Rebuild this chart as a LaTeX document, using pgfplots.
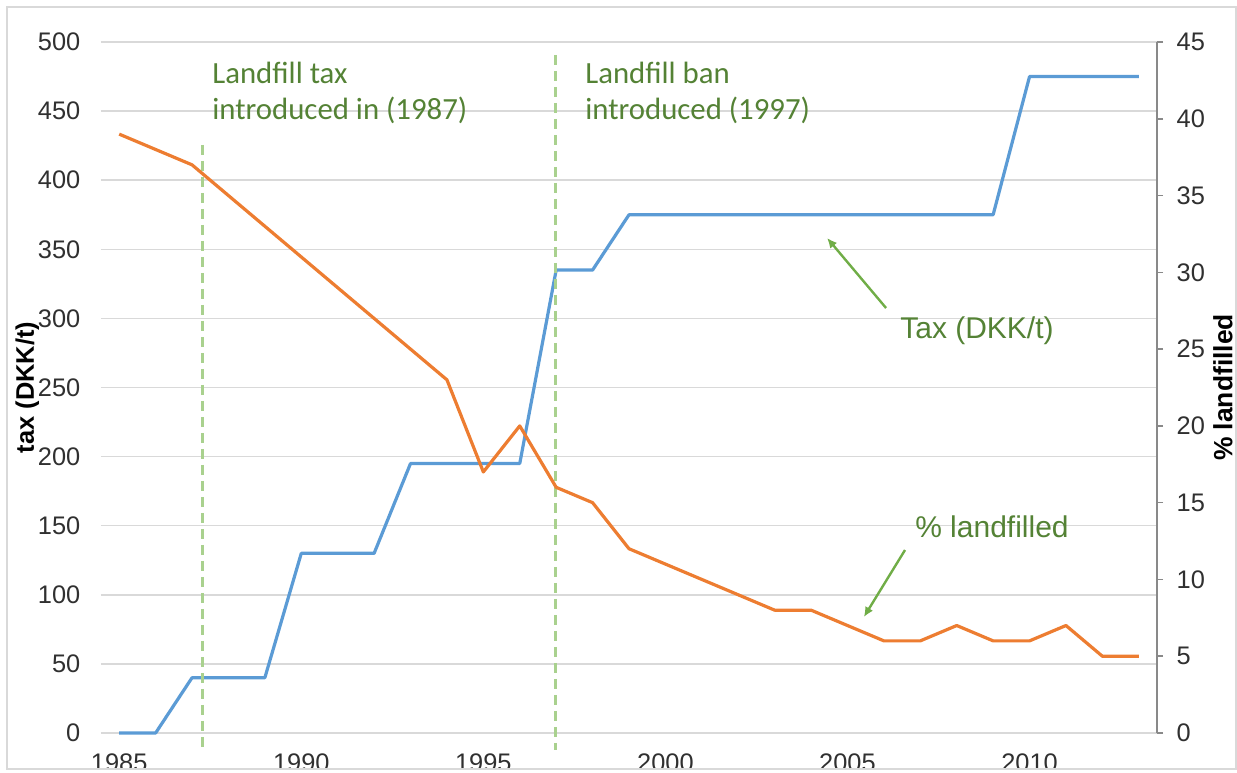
\documentclass[border=0pt]{standalone}
\usepackage{pgfplots}
\pgfplotsset{compat=1.18}
\usepackage{fontspec}
\setmainfont{Liberation Sans}
\newfontfamily\calibri{Carlito}
\usetikzlibrary{arrows.meta}
\definecolor{cblue}{HTML}{5B9BD5}
\definecolor{corange}{HTML}{ED7D31}
\definecolor{cdash}{HTML}{A9D18E}
\definecolor{ctext}{HTML}{548235}
\definecolor{carrow}{HTML}{70AD47}
\definecolor{cgrid}{HTML}{D9D9D9}
\definecolor{caxis}{HTML}{898989}
\definecolor{ctick}{HTML}{303030}
\begin{document}
\begin{tikzpicture}
\path[use as bounding box] (-50.5pt,-19.5pt) rectangle (568pt,366.5pt);
\begin{scope}
\clip (-47pt,-18pt) rectangle (567.5pt,363pt);
\begin{axis}[
  at={(0,0)}, anchor=south west,
  scale only axis, width=528pt, height=345.5pt,
  xmin=1984.5, xmax=2013.5, ymin=0, ymax=500,
  xtick={1985,1990,...,2010}, ytick={0,50,...,500},
  ymajorgrids, grid style={draw=cgrid, line width=0.75pt},
  axis line style={draw=none}, major tick length=0pt, tick style={draw=none},
  /pgf/number format/assume math mode=true,
  /pgf/number format/1000 sep={},
  tick label style={font=\fontsize{12.7}{15}\selectfont, text=ctick},
  xticklabel style={yshift=-6.8pt},
  yticklabel style={xshift=-6.8pt},
  ylabel={tax (DKK/t)},
  ylabel style={at={(axis description cs:-0.0697,0.5)}, anchor=center, font=\bfseries\fontsize{12.7}{15}\selectfont, text=black},
  clip=false,
]
\addplot[cblue, line width=1.6pt, line join=round] coordinates {
(1985,0)(1986,0)(1987,40)(1988,40)(1989,40)(1990,130)(1991,130)(1992,130)
(1993,195)(1994,195)(1995,195)(1996,195)(1997,335)(1998,335)(1999,375)
(2000,375)(2001,375)(2002,375)(2003,375)(2004,375)(2005,375)(2006,375)
(2007,375)(2008,375)(2009,375)(2010,475)(2011,475)(2012,475)(2013,475)};
\addplot[cdash, line width=1.5pt, dash pattern=on 5pt off 3pt] coordinates {(1987.30,425.5)(1987.30,-13.7)};
\addplot[cdash, line width=1.5pt, dash pattern=on 5pt off 3pt] coordinates {(1996.97,490.6)(1996.97,-12.3)};
\node[anchor=base west, inner sep=0pt, text=ctext, font=\calibri\fontsize{15.4}{18}\selectfont] at (axis cs:1987.548,470.1) {Landfill tax};
\node[anchor=base west, inner sep=0pt, text=ctext, font=\calibri\fontsize{15.4}{18}\selectfont] at (axis cs:1987.548,443.6) {introduced in (1987)};
\node[anchor=base west, inner sep=0pt, text=ctext, font=\calibri\fontsize{15.4}{18}\selectfont] at (axis cs:1997.79,470.1) {Landfill ban};
\node[anchor=base west, inner sep=0pt, text=ctext, font=\calibri\fontsize{15.4}{18}\selectfont] at (axis cs:1997.79,443.6) {introduced (1997)};
\node[anchor=base west, inner sep=0pt, text=ctext, font=\fontsize{15}{18}\selectfont] at (axis cs:2006.44,285.8) {Tax (DKK/t)};
\node[anchor=base west, inner sep=0pt, text=ctext, font=\fontsize{15}{18}\selectfont] at (axis cs:2006.85,141.8) {\% landfilled};
\draw[carrow, line width=1.2pt, -{Latex[length=5pt,width=4.5pt]}] (axis cs:2006.06,307.5) -- (axis cs:2004.44,358.2);
\draw[carrow, line width=1.2pt, -{Latex[length=5pt,width=4.5pt]}] (axis cs:2006.58,132.4) -- (axis cs:2005.45,83.9);
\end{axis}
\begin{axis}[
  at={(0,0)}, anchor=south west,
  scale only axis, width=528pt, height=345.5pt,
  xmin=1984.5, xmax=2013.5, ymin=0, ymax=45,
  axis x line=none, axis y line*=right,
  ytick={0,5,...,45},
  axis line style={draw=caxis, line width=0.75pt},
  ytick style={draw=caxis, line width=0.75pt},
  tick align=outside, major tick length=3pt,
  /pgf/number format/assume math mode=true,
  tick label style={font=\fontsize{12.7}{15}\selectfont, text=ctick},
  yticklabel style={xshift=3.3pt},
  ylabel={\% landfilled},
  ylabel style={at={(axis description cs:1.0625,0.5)}, anchor=center, font=\bfseries\fontsize{13.2}{15}\selectfont, text=black},
  clip=false,
]
\addplot[corange, line width=1.6pt, line join=round] coordinates {
(1985,39)(1986,38)(1987,37)(1988,35)(1989,33)(1990,31)(1991,29)(1992,27)
(1993,25)(1994,23)(1995,17)(1996,20)(1997,16)(1998,15)(1999,12)(2000,11)
(2001,10)(2002,9)(2003,8)(2004,8)(2005,7)(2006,6)(2007,6)(2008,7)(2009,6)
(2010,6)(2011,7)(2012,5)(2013,5)};
\end{axis}
\end{scope}
\draw[cgrid, line width=0.75pt] (-47pt,-18pt) rectangle (567.5pt,363pt);
\end{tikzpicture}
\end{document}
